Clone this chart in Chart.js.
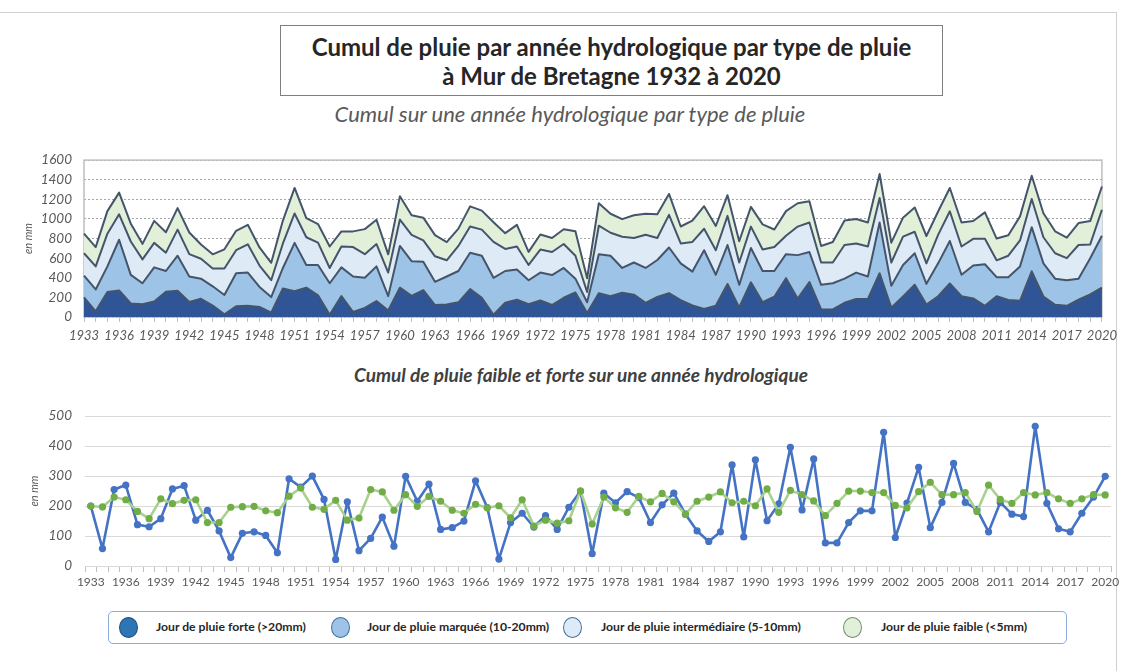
<!DOCTYPE html>
<html lang="fr">
<head>
<meta charset="utf-8">
<script src="https://cdn.jsdelivr.net/npm/chart.js@4.4.0/dist/chart.umd.min.js"></script>
<style>
  html, body { margin:0; padding:0; background:#fff; }
  body { width:1123px; height:671px; position:relative; overflow:hidden; font-family: Lato, "Open Sans", sans-serif; }
  .frame { position:absolute; left:0; top:12px; width:1116px; height:670px; border-top:1px solid #d0d0d0; border-right:1px solid #d0d0d0; }
  .titlebox { position:absolute; left:280px; top:25px; width:661px; border:1px solid #7f7f7f; text-align:center;
    font-weight:bold; font-size:24px; line-height:29px; color:#262626; padding-top:6px; box-sizing:content-box; height:63px; }
  .sub1 { position:absolute; left:0; width:1140px; top:100px; text-align:center; font-style:italic; font-size:22px; color:#595959; }
  .sub2 { position:absolute; left:0; width:1162px; top:363px; text-align:center; font-style:italic; font-weight:bold; font-size:19px; color:#404040; }
  canvas { position:absolute; left:0; }
  #top { top:140px; }
  #bot { top:395px; }
  .legend { position:absolute; left:108px; top:611px; width:957px; height:31px; border:1.5px solid #8EA9DB; border-radius:5px; }
  .mk { position:absolute; top:5px; width:19px; height:21px; border-radius:50%; box-sizing:border-box; border:1.5px solid #41719C; }
  .lt { position:absolute; top:7px; font-size:12.2px; font-weight:bold; color:#262626; white-space:nowrap; }
</style>
</head>
<body>
<div class="frame"></div>
<div class="titlebox">Cumul de pluie par année hydrologique par type de pluie<br>à Mur de Bretagne 1932 à 2020</div>
<div class="sub1">Cumul sur une année hydrologique par type de pluie</div>
<canvas id="top" width="1123" height="205"></canvas>
<div class="sub2">Cumul de pluie faible et forte sur une année hydrologique</div>
<canvas id="bot" width="1123" height="200"></canvas>
<div class="legend" id="legend"></div>
<script>
// ---- data ----
const years = [];
for (let y = 1933; y <= 2020; y++) years.push(String(y));

const forte = [200,58,255,270,138,131,158,257,268,153,186,117,28,109,114,102,44,291,263,300,222,22,214,51,92,163,66,299,216,273,
  122,128,150,284,195,23,145,176,130,168,122,196,250,41,243,211,248,228,145,204,243,173,117,82,114,337,97,354,151,207,
  396,187,357,77,77,145,184,184,446,95,210,329,128,212,342,212,189,114,212,173,165,466,209,124,114,176,230,299];

const marquee = [222,223,261,518,292,213,348,212,357,260,205,196,197,338,339,204,159,209,493,231,309,322,292,362,308,353,147,426,353,290,
  237,285,319,372,430,377,324,308,245,285,306,304,141,109,398,414,252,328,355,377,466,374,346,599,317,397,231,349,318,262,
  245,444,306,251,267,246,269,229,517,224,321,321,210,335,433,219,336,424,194,233,351,450,338,267,261,215,370,529];

const intermediaire = [228,235,334,259,340,244,250,187,266,228,203,181,269,234,288,219,172,250,300,282,228,156,213,300,241,228,240,269,269,218,
  260,165,256,266,266,366,225,235,156,235,235,244,234,105,290,234,319,250,338,225,332,203,303,219,250,297,228,219,219,244,
  187,291,300,228,212,343,297,306,250,237,288,219,209,291,303,288,272,259,172,219,265,287,266,259,225,343,140,266];

const faible = [200,197,230,221,182,158,224,208,219,221,145,145,196,198,199,184,178,233,260,196,189,219,153,160,255,247,186,238,199,232,
  216,186,176,206,194,201,161,221,133,153,143,151,250,140,230,194,179,232,214,242,214,173,216,230,247,211,216,201,257,179,
  252,238,217,168,209,250,250,245,245,202,194,248,279,238,238,245,182,270,222,209,245,237,245,224,209,224,238,237];

const seriesNames = ["Jour de pluie forte (>20mm)", "Jour de pluie marquée (10-20mm)", "Jour de pluie intermédiaire (5-10mm)", "Jour de pluie faible (<5mm)"];
const topTicks = [0,200,400,600,800,1000,1200,1400,1600];
const botTicks = [0,100,200,300,400,500];

// ---- styles ----
const areaFill = ["#2F5597", "#9DC3E6", "#DEEBF7", "#E2F0D9"];
const legendFill = ["#2E75B6", "#9DC3E6", "#DEEBF7", "#E2F0D9"];
const areaLine = "#44546A";
const grey = "#595959";
const fontFam = "Lato, 'Open Sans', sans-serif";

const framePlugin = {
  id: 'frame',
  beforeDatasetsDraw(chart) {
    const a = chart.chartArea, ctx = chart.ctx;
    ctx.save(); ctx.strokeStyle = '#BFBFBF'; ctx.lineWidth = 1.5;
    ctx.strokeRect(a.left, a.top, a.right - a.left, a.bottom - a.top);
    ctx.restore();
  }
};

const everyThird = function(v, i) { return i % 3 === 0 ? this.getLabelForValue(v) : ''; };
const plain = v => String(v);

new Chart(document.getElementById('top'), {
  type: 'line',
  data: {
    labels: years,
    datasets: [forte, marquee, intermediaire, faible].map((d, i) => ({
      label: seriesNames[i], data: d,
      backgroundColor: areaFill[i], borderColor: areaLine, borderWidth: 2, borderJoinStyle: 'round',
      fill: i === 0 ? 'origin' : '-1', pointRadius: 0, tension: 0
    }))
  },
  options: {
    responsive: false, animation: false,
    layout: { padding: { left: 22, right: 13, top: 5, bottom: 0 }, autoPadding: false },
    plugins: { legend: { display: false }, tooltip: { enabled: false } },
    scales: {
      x: {
        offset: false,
        afterFit: s => { s.height = 28; },
        grid: { drawOnChartArea: false, drawTicks: true, tickLength: 5, color: '#BFBFBF' },
        border: { display: false },
        ticks: { autoSkip: false, maxRotation: 0, minRotation: 0, padding: 6, color: grey,
          font: { family: fontFam, size: 13, style: 'italic' }, callback: everyThird }
      },
      y: {
        stacked: true, min: 0, max: 1600,
        afterFit: s => { s.width = 62; },
        afterBuildTicks: s => { s.ticks = topTicks.map(v => ({ value: v })); },
        grid: { color: '#A6A6A6', drawTicks: false, lineWidth: 1 },
        border: { display: false, dash: [2, 2] },
        ticks: { padding: 12, color: grey, font: { family: fontFam, size: 13.5, style: 'italic' }, callback: plain },
        title: { display: true, text: 'en mm', color: grey, padding: { top: 0, bottom: 0 },
          font: { family: fontFam, size: 11, style: 'italic' } }
      }
    }
  },
  plugins: [framePlugin]
});

new Chart(document.getElementById('bot'), {
  type: 'line',
  data: {
    labels: years,
    datasets: [
      { label: seriesNames[0], data: forte, borderColor: '#4472C4', backgroundColor: '#4472C4', borderJoinStyle: 'round',
        pointBackgroundColor: '#4472C4', pointBorderWidth: 0, pointRadius: 3.6, borderWidth: 2.6, tension: 0, order: 1 },
      { label: seriesNames[3], data: faible, borderColor: '#A9D18E', backgroundColor: '#70AD47', borderJoinStyle: 'round',
        pointBackgroundColor: '#70AD47', pointBorderWidth: 0, pointRadius: 3.6, borderWidth: 2.6, tension: 0, order: 0 }
    ]
  },
  options: {
    responsive: false, animation: false,
    layout: { padding: { left: 28, right: 12, top: 8, bottom: 0 }, autoPadding: false },
    plugins: { legend: { display: false }, tooltip: { enabled: false } },
    scales: {
      x: {
        offset: true,
        afterFit: s => { s.height = 29; },
        grid: { offset: true, drawOnChartArea: false, drawTicks: true, tickLength: 6, color: '#BFBFBF' },
        border: { display: false },
        ticks: { autoSkip: false, maxRotation: 0, minRotation: 0, padding: 3, color: grey,
          font: { family: fontFam, size: 12 }, callback: everyThird }
      },
      y: {
        min: 0, max: 500,
        afterFit: s => { s.width = 57; },
        afterBuildTicks: s => { s.ticks = botTicks.map(v => ({ value: v })); },
        grid: { color: '#D9D9D9', drawTicks: false },
        border: { display: false },
        ticks: { padding: 13, color: grey, font: { family: fontFam, size: 13.5, style: 'italic' }, callback: plain },
        title: { display: true, text: 'en mm', color: grey, padding: { top: 0, bottom: 0 },
          font: { family: fontFam, size: 11, style: 'italic' } }
      }
    }
  }
});

// ---- HTML legend ----
const legend = document.getElementById('legend');
const mkX = [10, 222, 454, 734];
const txX = [47, 258, 492, 772];
seriesNames.forEach((n, i) => {
  const m = document.createElement('div'); m.className = 'mk';
  m.style.left = mkX[i] + 'px'; m.style.background = legendFill[i];
  if (i === 0) m.style.borderColor = '#1F4E79';
  if (i === 3) m.style.borderColor = '#6F8F72';
  const t = document.createElement('div'); t.className = 'lt';
  t.style.left = txX[i] + 'px'; t.textContent = n;
  legend.appendChild(m); legend.appendChild(t);
});
</script>
</body>
</html>
